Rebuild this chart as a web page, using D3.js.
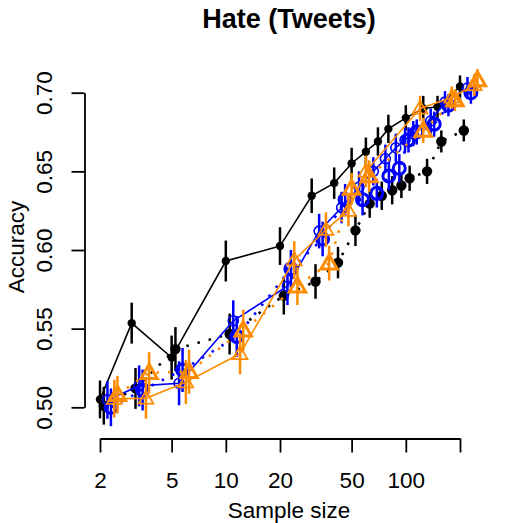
<!DOCTYPE html>
<html>
<head>
<meta charset="utf-8">
<script src="https://cdn.jsdelivr.net/npm/d3@7"></script>
<style>
  body { margin: 0; background: #fff; }
  svg text { font-family: "Liberation Sans", Arial, Helvetica, sans-serif; fill: #000; }
</style>
</head>
<body>
<div id="chart"></div>
<script>
// sample sizes shared by every series (null = no point at that size)
const sampleSizes = [2, 3, 5, 10, 20, 30, 40, 50, 60, 70, 80, 90, 100, 125, 150, 200];
const xTicks = [2, 5, 10, 20, 50, 100, 200];
const yTicks = [0.50, 0.55, 0.60, 0.65, 0.70];

// accuracy
const blackSolid   = [0.505, 0.5535, 0.5316, 0.593, 0.6025, 0.6345, 0.6425, 0.655, 0.6625, 0.669, 0.677, null, 0.684, 0.690, 0.691, 0.704];
const blackDotted  = [0.501, 0.512, 0.537, 0.5466, 0.571, 0.580, 0.592, 0.6125, 0.6295, 0.6345, 0.638, 0.641, 0.6456, 0.650, 0.669, 0.676];
const blueSolid    = [0.5047, 0.5136, 0.5153, 0.555, 0.577, 0.612, 0.627, 0.640, 0.650, 0.658, 0.665, 0.670, 0.674, 0.682, 0.694, 0.703];
const blueDotted   = [0.500, 0.511, 0.5237, 0.545, 0.588, 0.607, 0.632, 0.632, 0.636, 0.647, 0.652, 0.670, 0.675, 0.680, 0.692, 0.700];
const orangeSolid  = [0.5055, 0.5057, 0.516, 0.534, 0.5936, 0.613, 0.625, 0.650, null, null, null, null, 0.690, null, 0.697, 0.705];
const orangeDotted = [0.508, 0.522, 0.5226, 0.549, 0.577, 0.5916, 0.639, 0.647, null, null, null, null, 0.676, null, 0.6953, 0.708];
// half length of the error bars
const errHalf = [0.012, 0.013, 0.014, 0.013, 0.012, 0.011, 0.010, 0.010, 0.009, 0.009, 0.009, 0.008, 0.008, 0.008, 0.007, 0.007];

const W = 523, H = 523;
const svg = d3.select("#chart").append("svg").attr("width", W).attr("height", H);

const x = d3.scaleLog().domain([2, 200]).range([100, 460]);
const y = d3.scaleLinear().domain([0.5, 0.7]).range([407.3, 92.7]);

const BLUE = "#0000ff", ORANGE = "#ff8c00";

// each series: values, horizontal jitter factor, look
const series = [
  { vals: blackSolid,   jit: 1.00, color: "#000", dash: null,  shape: "dot",  r: 4.2 },
  { vals: blackDotted,  jit: 1.05, color: "#000", dash: "2.5,9", shape: "dot",  r: 5.2 },
  { vals: blueSolid,    jit: 1.10, color: BLUE,   dash: null,  shape: "circle", r: 5, sw: 1.6 },
  { vals: blueDotted,   jit: 1.15, color: BLUE,   dash: "2.5,9", shape: "circle", r: 6, sw: 3 },
  { vals: orangeSolid,  jit: 1.20, color: ORANGE, dash: null,  shape: "tri", size: 95, sw: 1.8 },
  { vals: orangeDotted, jit: 1.25, color: ORANGE, dash: "2.5,9", shape: "tri", size: 115, sw: 3 }
];

const line = d3.line().x(d => x(d.n)).y(d => y(d.v));
const tri = d3.symbol().type(d3.symbolTriangle);

series.forEach(s => {
  const pts = sampleSizes
    .map((n, i) => ({ n: n * s.jit, v: s.vals[i], e: errHalf[i] }))
    .filter(d => d.v != null);
  const g = svg.append("g");

  g.append("path")
    .datum(pts)
    .attr("d", line)
    .attr("fill", "none")
    .attr("stroke", s.color)
    .attr("stroke-width", s.dash ? 2.6 : 1.6)
    .attr("stroke-dasharray", s.dash);

  g.selectAll(".err")
    .data(pts)
    .join("line")
    .attr("x1", d => x(d.n)).attr("x2", d => x(d.n))
    .attr("y1", d => y(d.v - d.e)).attr("y2", d => y(d.v + d.e))
    .attr("stroke", s.color)
    .attr("stroke-width", 2.5);

  if (s.shape === "dot") {
    g.selectAll(".pt").data(pts).join("circle")
      .attr("cx", d => x(d.n)).attr("cy", d => y(d.v))
      .attr("r", s.r).attr("fill", s.color);
  } else if (s.shape === "circle") {
    g.selectAll(".pt").data(pts).join("circle")
      .attr("cx", d => x(d.n)).attr("cy", d => y(d.v))
      .attr("r", s.r).attr("fill", "none")
      .attr("stroke", s.color).attr("stroke-width", s.sw);
  } else {
    g.selectAll(".pt").data(pts).join("path")
      .attr("d", tri.size(s.size))
      .attr("transform", d => `translate(${x(d.n)},${y(d.v) + 1})`)
      .attr("fill", "none")
      .attr("stroke", s.color).attr("stroke-width", s.sw);
  }
});

// axes
const xAxis = svg.append("g")
  .attr("transform", "translate(0,438.5)")
  .call(d3.axisBottom(x).tickValues(xTicks).tickSize(14).tickSizeOuter(0)
    .tickFormat(d => d === 200 ? "" : d));
xAxis.selectAll("path, line").attr("stroke", "#000").attr("stroke-width", 1.8);
xAxis.selectAll("text").attr("y", 49.5).attr("dy", null).style("font-size", "22.5px");

const yAxis = svg.append("g")
  .attr("transform", "translate(84.5,0)")
  .call(d3.axisLeft(y).tickValues(yTicks).tickSize(13).tickSizeOuter(0)
    .tickFormat(d3.format(".2f")));
yAxis.selectAll("path, line").attr("stroke", "#000").attr("stroke-width", 1.8);
yAxis.selectAll("text")
  .attr("transform", "rotate(-90)")
  .attr("x", 0).attr("y", -33).attr("dy", null)
  .attr("text-anchor", "middle")
  .style("font-size", "22.5px");
svg.selectAll(".domain").attr("fill", "none");

// titles
svg.append("text")
  .attr("x", 289).attr("y", 28)
  .attr("text-anchor", "middle")
  .style("font-size", "27px").style("font-weight", "bold")
  .text("Hate (Tweets)");

svg.append("text")
  .attr("x", 289).attr("y", 518)
  .attr("text-anchor", "middle")
  .style("font-size", "22.5px")
  .text("Sample size");

svg.append("text")
  .attr("transform", "translate(23.5,247) rotate(-90)")
  .attr("text-anchor", "middle")
  .style("font-size", "22.5px")
  .text("Accuracy");
</script>
</body>
</html>
